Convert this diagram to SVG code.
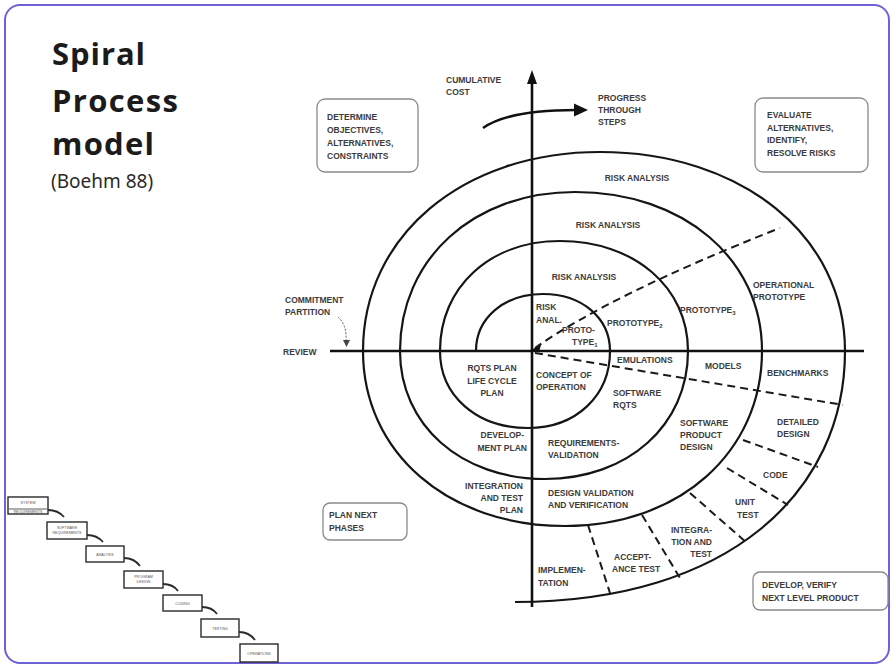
<svg xmlns="http://www.w3.org/2000/svg" width="894" height="668" viewBox="0 0 894 668">
<defs>
<style>
.lbl{font-family:"Liberation Sans",Arial,sans-serif;font-weight:bold;font-size:8.5px;fill:#3c3c3c;}
.mid{text-anchor:middle;}
.end{text-anchor:end;}
.ring{fill:none;stroke:#151515;stroke-width:2.2;}
.dash{fill:none;stroke:#1a1a1a;stroke-width:2;stroke-dasharray:8 5;}
.axis{stroke:#111;stroke-width:2.6;fill:none;}
.box{fill:#fff;stroke:#8a8a8a;stroke-width:1.3;}
.title{font-family:"Open Sans","Noto Sans",sans-serif;font-weight:bold;fill:#1b1b1b;}
.wf{fill:#fff;stroke:#2a2a2a;stroke-width:1.4;}
.wft{font-family:"Liberation Sans",Arial,sans-serif;font-size:3.6px;fill:#555;text-anchor:middle;}
.wfc{fill:none;stroke:#2a2a2a;stroke-width:1.8;}
</style>
</defs>
<rect x="0" y="0" width="894" height="668" fill="#fff"/>
<rect id="frame" x="5" y="5" width="884" height="658" rx="15" fill="#fff" stroke="#6e62d6" stroke-width="2"/>

<g id="title">
<text class="title" x="52" y="65" font-size="31" textLength="93">Spiral</text>
<text class="title" x="52" y="112" font-size="31" textLength="126">Process</text>
<text class="title" x="52" y="155" font-size="31" textLength="102">model</text>
<text x="51" y="188" font-family="'Noto Sans','Open Sans',sans-serif" font-size="19" fill="#2a2a2a">(Boehm 88)</text>
</g>

<g id="waterfall">
<g id="wf1"><rect class="wf" x="8" y="497" width="40" height="17"/><line x1="9" y1="509" x2="47" y2="509" stroke="#333" stroke-width="0.8"/><text class="wft" x="28" y="504">SYSTEM</text><text class="wft" x="28" y="512.5">REQUIREMENTS</text></g>
<g id="wf2"><rect class="wf" x="47" y="522" width="40" height="17"/><text class="wft" x="67" y="529">SOFTWARE</text><text class="wft" x="67" y="534">REQUIREMENTS</text></g>
<g id="wf3"><rect class="wf" x="86" y="546" width="38" height="16"/><text class="wft" x="105" y="555.5">ANALYSIS</text></g>
<g id="wf4"><rect class="wf" x="124" y="571" width="39" height="17"/><text class="wft" x="143.5" y="578">PROGRAM</text><text class="wft" x="143.5" y="583">DESIGN</text></g>
<g id="wf5"><rect class="wf" x="163" y="595" width="39" height="16"/><text class="wft" x="182.5" y="604.5">CODING</text></g>
<g id="wf6"><rect class="wf" x="201" y="619" width="38" height="18"/><text class="wft" x="220" y="629.5">TESTING</text></g>
<g id="wf7"><rect class="wf" x="240" y="644" width="38" height="18"/><text class="wft" x="259" y="654.5">OPERATIONS</text></g>
<g id="wf-connectors">
<path class="wfc" d="M48,510 Q58,510 64,517"/>
<path class="wfc" d="M87,535 Q97,535 103,542"/>
<path class="wfc" d="M124,558 Q134,558 140,566"/>
<path class="wfc" d="M163,584 Q173,584 178,591"/>
<path class="wfc" d="M202,607 Q212,607 217,614"/>
<path class="wfc" d="M239,632 Q249,632 255,640"/>
</g>
</g>

<g id="connectors">
<line class="axis" x1="532" y1="82" x2="532" y2="607"/>
<polygon points="532,70 527,84 537,84" fill="#111"/>
<line class="axis" x1="330" y1="351" x2="864" y2="351"/>
<path class="axis" d="M483,128 C500,116 530,110 576,110" stroke-width="2.3"/>
<polygon points="588,110 574,103.5 574,116.5" fill="#111"/>
<path class="ring" d="M476,351 C476,318 504,294 543,294 C582,294 610,318 610,351 C610,396 576,428 528,428 C477,428 440,396 440,351 C440,287 490,241 560,241 C634,241 688,287 688,351 C688,425 628,479 545,479 C461,479 400,425 400,351 C400,259 473.5,192 575,192 C683.5,192 762,259 762,351 C762,452.5 679,526 565,526 C448,526 363,452.5 363,351 C363,236 462.5,152 600,152 C742,152 845,236 845,351 C845,491 730,602 515,602"/>
<path class="dash" d="M535,348 Q610,295 780,228"/>
<path class="dash" d="M535,353 L843,405"/>
<path class="dash" d="M743,440 L818,467"/>
<path class="dash" d="M727,468 L788,505"/>
<path class="dash" d="M690,493 L747,543"/>
<path class="dash" d="M642,515 L680,578"/>
<path class="dash" d="M588,525 L610,593"/>
<polygon points="531,350 541,345 539,352" fill="#111"/>
<path d="M338,317 Q347,325 346,340" fill="none" stroke="#555" stroke-width="1" stroke-dasharray="2 1.5"/>
<polygon points="346.5,347 343,340 350,340" fill="#444"/>
</g>

<g id="box-determine">
<rect class="box" x="317" y="99" width="101" height="73" rx="8"/>
<text class="lbl" x="327" y="120">DETERMINE</text>
<text class="lbl" x="327" y="133">OBJECTIVES,</text>
<text class="lbl" x="327" y="146">ALTERNATIVES,</text>
<text class="lbl" x="327" y="159">CONSTRAINTS</text>
</g>
<g id="box-evaluate">
<rect class="box" x="755" y="98" width="113" height="74" rx="8"/>
<text class="lbl" x="767" y="118">EVALUATE</text>
<text class="lbl" x="767" y="131">ALTERNATIVES,</text>
<text class="lbl" x="767" y="143">IDENTIFY,</text>
<text class="lbl" x="767" y="156">RESOLVE RISKS</text>
</g>
<g id="box-plan">
<rect class="box" x="323" y="503" width="84" height="37" rx="7"/>
<text class="lbl" x="329" y="518">PLAN NEXT</text>
<text class="lbl" x="329" y="531">PHASES</text>
</g>
<g id="box-develop">
<rect class="box" x="753" y="572" width="135" height="38" rx="7"/>
<text class="lbl" x="762" y="588">DEVELOP, VERIFY</text>
<text class="lbl" x="762" y="601">NEXT LEVEL PRODUCT</text>
</g>

<g id="axis-labels">
<text class="lbl" x="446" y="83">CUMULATIVE</text>
<text class="lbl" x="446" y="95">COST</text>
<text class="lbl" x="598" y="101">PROGRESS</text>
<text class="lbl" x="598" y="113">THROUGH</text>
<text class="lbl" x="598" y="125">STEPS</text>
<text class="lbl" x="285" y="303">COMMITMENT</text>
<text class="lbl" x="285" y="315">PARTITION</text>
<text class="lbl" x="283" y="355">REVIEW</text>
</g>

<g id="spiral-labels">
<text class="lbl mid" x="637" y="181">RISK ANALYSIS</text>
<text class="lbl mid" x="608" y="228">RISK ANALYSIS</text>
<text class="lbl mid" x="584" y="280">RISK ANALYSIS</text>
<text class="lbl" x="536" y="310">RISK</text>
<text class="lbl" x="536" y="323">ANAL.</text>
<text class="lbl" x="562" y="333">PROTO-</text>
<text class="lbl" x="572" y="345">TYPE<tspan font-size="6" dy="2">1</tspan></text>
<text class="lbl" x="607" y="326">PROTOTYPE<tspan font-size="6" dy="2">2</tspan></text>
<text class="lbl" x="680" y="313">PROTOTYPE<tspan font-size="6" dy="2">3</tspan></text>
<text class="lbl" x="753" y="288">OPERATIONAL</text>
<text class="lbl" x="753" y="300">PROTOTYPE</text>
<text class="lbl" x="617" y="363">EMULATIONS</text>
<text class="lbl" x="705" y="369">MODELS</text>
<text class="lbl" x="767" y="376">BENCHMARKS</text>
<text class="lbl mid" x="492" y="371">RQTS PLAN</text>
<text class="lbl mid" x="492" y="384">LIFE CYCLE</text>
<text class="lbl mid" x="492" y="396">PLAN</text>
<text class="lbl" x="536" y="378">CONCEPT OF</text>
<text class="lbl" x="536" y="390">OPERATION</text>
<text class="lbl" x="613" y="396">SOFTWARE</text>
<text class="lbl" x="613" y="408">RQTS</text>
<text class="lbl" x="680" y="426">SOFTWARE</text>
<text class="lbl" x="680" y="438">PRODUCT</text>
<text class="lbl" x="680" y="450">DESIGN</text>
<text class="lbl" x="777" y="425">DETAILED</text>
<text class="lbl" x="777" y="437">DESIGN</text>
<text class="lbl" x="763" y="478">CODE</text>
<text class="lbl" x="735" y="505">UNIT</text>
<text class="lbl" x="737" y="518">TEST</text>
<text class="lbl end" x="712" y="533">INTEGRA-</text>
<text class="lbl end" x="712" y="545">TION AND</text>
<text class="lbl end" x="712" y="557">TEST</text>
<text class="lbl" x="614" y="560">ACCEPT-</text>
<text class="lbl" x="612" y="572">ANCE TEST</text>
<text class="lbl" x="538" y="573">IMPLEMEN-</text>
<text class="lbl" x="538" y="586">TATION</text>
<text class="lbl end" x="524" y="438">DEVELOP-</text>
<text class="lbl end" x="527" y="451">MENT PLAN</text>
<text class="lbl" x="548" y="446">REQUIREMENTS-</text>
<text class="lbl" x="548" y="458">VALIDATION</text>
<text class="lbl end" x="523" y="489">INTEGRATION</text>
<text class="lbl end" x="523" y="501">AND TEST</text>
<text class="lbl end" x="523" y="513">PLAN</text>
<text class="lbl" x="548" y="496">DESIGN VALIDATION</text>
<text class="lbl" x="548" y="508">AND VERIFICATION</text>
</g>
</svg>
